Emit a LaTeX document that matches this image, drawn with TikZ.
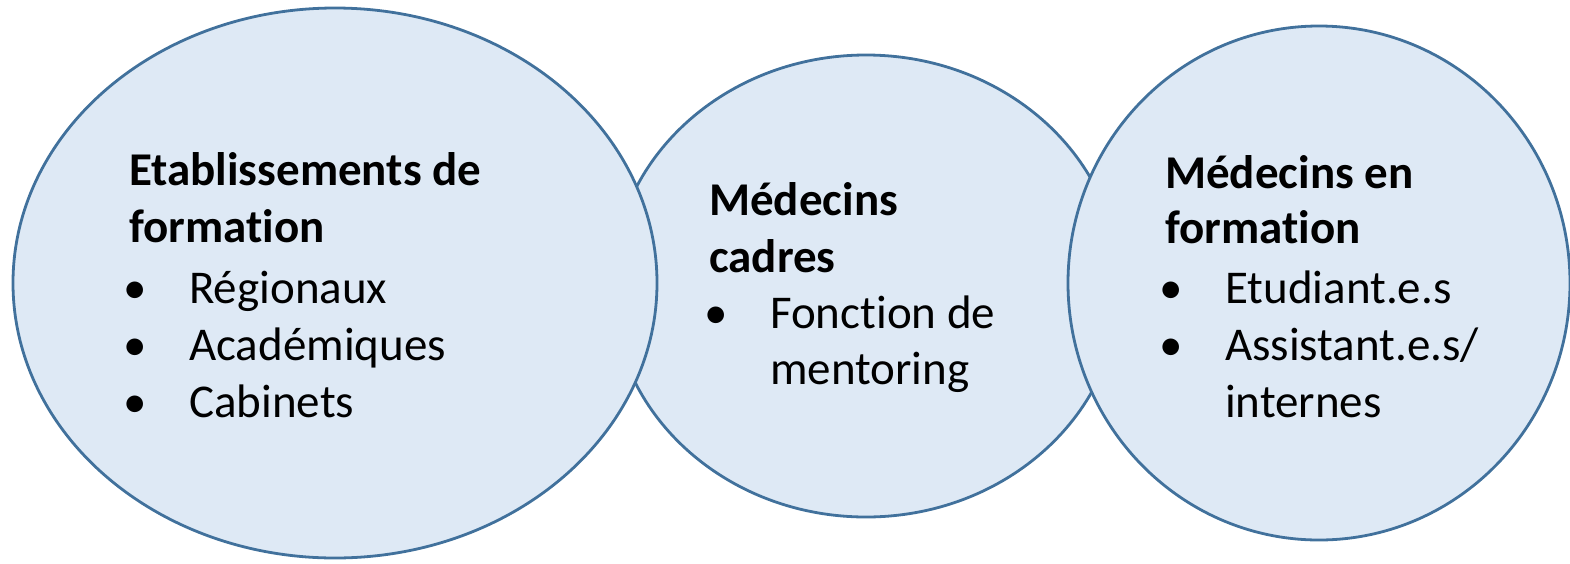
\documentclass[tikz,border=0pt]{standalone}
\usepackage{fontspec}
\setmainfont{Carlito}[RawFeature={-liga}]
\usetikzlibrary{shapes.geometric}
\definecolor{ellfill}{HTML}{DEE9F5}
\definecolor{elldraw}{HTML}{41719C}
\tikzset{
  ell/.style={ellipse, draw=elldraw, fill=ellfill, line width=2.8pt, inner sep=0pt},
  ttl/.style={anchor=base west, inner sep=0pt, font=\fontsize{47}{56}\selectfont\bfseries},
  itm/.style={anchor=base west, inner sep=0pt, font=\fontsize{47}{56}\selectfont},
  bul/.style={anchor=base, inner sep=0pt, font=\fontsize{47}{56}\selectfont},
}
\begin{document}
\begin{tikzpicture}[x=1pt,y=-1pt]
\useasboundingbox (0,0) rectangle (1570,563);
% middle ellipse first (behind)
\node[ell, minimum width=508pt, minimum height=462pt] (M) at (866,286) {};
\node[ell, minimum width=644pt, minimum height=550pt] (L) at (335,283) {};
\node[ell, minimum width=502pt, minimum height=514pt] (R) at (1319,283) {};
% left texts
\node[ttl] (l1) at (129,185) {Etablissements de};
\node[ttl] (l2) at (129,242) {formation};
\node[bul] (lb1) at (135,303) {•};
\node[itm] (l3) at (189,303) {Régionaux};
\node[bul] (lb2) at (135,360) {•};
\node[itm] (l4) at (189,360) {Académiques};
\node[bul] (lb3) at (135,417) {•};
\node[itm] (l5) at (189,417) {Cabinets};
% middle texts
\node[ttl] (m1) at (709,215) {Médecins};
\node[ttl] (m2) at (709,272) {cadres};
\node[bul] (mb1) at (716,328) {•};
\node[itm] (m3) at (770,328) {Fonction de};
\node[itm] (m4) at (770,384) {mentoring};
% right texts
\node[ttl] (r1) at (1165,188) {Médecins en};
\node[ttl] (r2) at (1165,243) {formation};
\node[bul] (rb1) at (1171,303) {•};
\node[itm] (r3) at (1225,303) {Etudiant.e.s};
\node[bul] (rb2) at (1171,360) {•};
\node[itm] (r4) at (1225,360) {Assistant.e.s/};
\node[itm] (r5) at (1225,417) {internes};
\end{tikzpicture}
\end{document}
